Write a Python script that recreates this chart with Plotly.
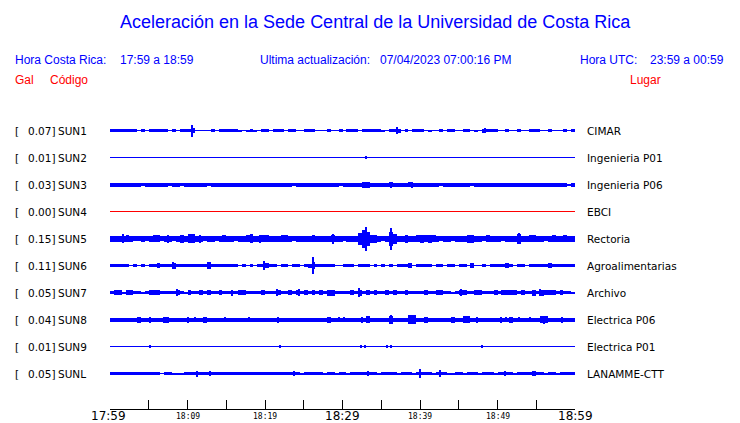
import plotly.graph_objects as go

# ---------------- data ----------------
TITLE = "Aceleración en la Sede Central de la Universidad de Costa Rica"
HORA_CR = "17:59 a 18:59"
HORA_UTC = "23:59 a 00:59"
ACTUALIZACION = "07/04/2023 07:00:16 PM"

CODES = ["SUN1", "SUN2", "SUN3", "SUN4", "SUN5", "SUN6", "SUN7", "SUN8", "SUN9", "SUNL"]
PEAKS = ["0.07]", "0.01]", "0.03]", "0.00]", "0.15]", "0.11]", "0.05]", "0.04]", "0.01]", "0.05]"]
PLACES = ["CIMAR", "Ingenieria P01", "Ingenieria P06", "EBCI", "Rectoria",
          "Agroalimentarias", "Archivo", "Electrica P06", "Electrica P01", "LANAMME-CTT"]
TRACE_COLORS = ["#0000FF", "#0000FF", "#0000FF", "#FF0000", "#0000FF",
                "#0000FF", "#0000FF", "#0000FF", "#0000FF", "#0000FF"]

# time axis (minutes after 17:59)
TICK_MINUTES = [0, 5, 10, 15, 20, 25, 30, 35, 40, 45, 50, 55, 60]
BIG_TICK_MINUTES = [0, 30, 60]
BIG_TICK_LABELS = ["17:59", "18:29", "18:59"]
SMALL_TICK_MINUTES = [10, 20, 40, 50]
SMALL_TICK_LABELS = ["18:09", "18:19", "18:39", "18:49"]
BIN_MINUTES = 0.5   # envelope sampled every 30 s

# envelope half-amplitudes (screen units) per 30-s bin
SUN1_ENV = [1.5,1.5,1.5,1.5,1.5,1.5,1.5,0,1.5,0,
            1.5,1.5,1.5,1.5,1.5,0,1.5,0,1.5,1.5,
            1.5,2.5,0,0,0,0,1.5,0,1.5,1.5,
            1.5,1.5,1.5,1,0,1,1.5,1,0,1.5,
            1.5,0,1.5,1.5,1.5,0,1.5,1.5,0,0,
            1.5,1.5,1.5,0,0,0,1.5,0,0,1.5,
            0,1.5,1.5,1.5,0,1.5,1.5,1.5,1.5,1.5,
            1,0,1.5,1.5,2,0,1.5,0,1.5,1.5,
            1.5,0,1,0,0,1.5,0,1.5,1.5,0,
            0,1.5,1.5,0,1,0,2,1.5,1.5,1.5,
            0,0,1.5,0,0,1.5,0,0,1.5,1.5,
            1.5,0,0,1.5,0,0,0,1.5,0,1.5]
SUN2_ENV = [0] * 120
SUN3_ENV = [2,2,2,2,2,2,2,2,1.2,2,
            2,2,2,2,2,1.2,2,2,1.2,2,
            2,2,2,2,2,1.2,2,2,2,2,
            2,2,2,2,2,2,2,2,2,2,
            2,2,2,2,2,2,2,1.2,2,2,
            2,2,2,2,2,2,2,2,2,1.2,
            2,2,2,2,2,3,3,2,2,2,
            2,2,2.8,2,2,2,2,2.8,2,2,
            2,2,2,2,2,1.2,2,2,2,2,
            2,2,2,1.2,2,2,2,2,2,2,
            2,2,2,2,2,2,2,2,2,2,
            2,2,2,2,2,2,2,2,1,2]
SUN4_ENV = [0] * 120
SUN5_ENV = [3,3,3,3,3.5,3,2.2,2.2,3,2.2,
            3,3.7,3.7,2.2,3,3,2.2,3,4,3,
            4.3,4.3,3,3,2.2,3,3,2.2,3,3.7,
            3,3,2.2,3,3,3.7,4.5,3,3,3.7,
            3.7,3,3,3,3.7,3.7,3,2.2,3,3,
            3,3,3.5,3,3,3,3,3.5,3,3,
            2.2,3,3,3,6,9,7,4,4,3,
            2.2,3,7,5,3,3,4,3,3,3.7,
            4,3.5,4,3.5,3,2.2,3,3,2.2,3,
            3,3,4,4,3,3,2.2,3.5,3,3,
            3,2.2,3,3,3,5,3,3,3.7,3.7,
            3,3,2.2,3,3.7,3,3,3.5,3,3]
SUN6_ENV = [1.7,1.7,1.7,1.7,1.7,0,1.7,0,1.2,0,
            1.7,1.7,2.5,1.7,1.7,1.7,3,1.7,1.7,1.7,
            1.7,1.7,1.7,1.7,1.7,3.5,1.7,1.7,1.7,1.7,
            1.7,1.7,1.7,0,1.7,0,1.7,0,1.7,1.7,
            2.5,1.7,1.7,0,1.7,1.7,0,1.7,1.7,0,
            1.7,2,3.5,1.7,1.7,1.7,1.7,1.7,0,0,
            1.7,1.7,1.7,0,1.7,1.7,1.7,0,1.7,0,
            1.7,0,1.7,0,1.7,1.7,1.7,2.5,0,1.7,
            1.7,1.7,1.7,0,1.7,1.7,0,1.7,1.7,0,
            1.7,1.7,0,2.5,0,0,1.7,0,1.7,1.7,
            1.7,1.7,2.5,1.7,0,1.7,1.7,0,1.7,1.7,
            1.7,1.7,1.7,2.5,1.7,1.7,1.7,1.7,1.7,1.7]
SUN7_ENV = [1.7,2.7,2.7,1,2.7,2.7,1.7,1.7,1,1.7,
            2.5,2.2,2.5,1.7,1.7,1.7,1.7,2.2,1.7,1,
            2.2,1.7,1.7,2.8,1.7,2.2,1.7,1.7,2.2,1.7,
            1.7,1.7,1.7,2.8,2.8,1.7,1.7,1.7,1.7,2.2,
            1.7,1.7,1.7,2.7,1.7,1.7,2.2,1.7,2.2,1.7,
            2.2,1.7,2.2,1.7,2.5,1.7,3,3,1.7,1.7,
            1.7,1.7,2.5,1.7,3,1.7,2.5,1.7,2.5,1.7,
            1.7,2.2,1.7,2.7,1.7,1.7,2.2,1.7,1.7,1.7,
            1.7,2.2,1.7,1.7,2.5,2.2,1.7,1.7,1,1.7,
            2.2,2.2,1.7,1.7,2.7,2.7,1.7,1.7,1.7,2.2,
            1.7,2.2,2.8,2.7,2.2,1.7,2.2,1.7,1.7,3,
            1.7,3,2.5,2.5,2.5,1.7,2.8,1.7,1.7,1]
SUN8_ENV = [2,2,2,2,2,2,2,3,2,2,
            2,2,2,2,3,2,2,2,2,2,
            2,2,2,2,3,2,2,2,2,2,
            2,2,2,2,2,2,2,2,2,2,
            2,2,2,2,2,2,2,2,2,2,
            2,2,2,2,2,2,3,2,2,2,
            2,2,2,2,2,2,3.2,2,2,2,
            2,2,4,2,2,2,2,4.3,4.3,2,
            2,3,2,2,2,2,2,2,3,2,
            2,3.2,3.2,2,2,2,2,2,2,2,
            2,2,2,3,2,2,2,2,2,2,
            2,3.5,3.5,2,2,2,2,2,2,2]
SUN9_ENV = [0] * 120
SUNL_ENV = [1.7,1.7,1.7,1.2,1.7,1.7,1.7,1.7,1.7,1.2,
            1.7,1.7,1.2,0,1.7,1.7,0.8,0.8,0.8,1.7,
            1.7,1.7,1.7,1.7,1.7,1.7,1.7,1.7,1.7,1.7,
            1.7,1.7,1.7,1.7,1.7,1.7,1.7,1.7,1.7,1.7,
            1.7,1.7,1.7,1.7,1.7,1.7,1.7,1.7,1.7,0.8,
            1.7,1.7,1.7,1.7,1.7,0.8,1.7,1.7,0.8,1.7,
            1.7,0.8,1.7,1.7,1.7,1.7,1.7,1.7,1.7,0.8,
            1.7,1.7,1.7,1.7,0.8,1.7,1.7,1.7,0.8,1.7,
            1.7,1.7,1.7,0.8,1.7,1.7,1.7,0.8,0.8,1.7,
            1.7,0.8,1.7,1.7,1.7,0.8,1.7,1.7,1.7,0.8,
            1.7,1.7,1.7,1.7,0.8,1.7,1.7,1.7,1.7,2.5,
            1.7,1.7,0.8,1.7,1.7,0.8,1.7,1.7,1.7,1.7]
ENVELOPES = [SUN1_ENV, SUN2_ENV, SUN3_ENV, SUN4_ENV, SUN5_ENV,
             SUN6_ENV, SUN7_ENV, SUN8_ENV, SUN9_ENV, SUNL_ENV]

# narrow peaks: minute, half-amplitude
SUN1_SPIKE_T = [10.6, 37.1, 48.35]
SUN1_SPIKE_A = [6, 3.3, 2.5]
SUN2_SPIKE_T = [33.0]
SUN2_SPIKE_A = [1.5]
SUN3_SPIKE_T = [36.3, 38.95]
SUN3_SPIKE_A = [3, 3]
SUN4_SPIKE_T = []
SUN4_SPIKE_A = []
SUN5_SPIKE_T = [1.7, 7.5, 11.6, 19.35, 28.85, 33.05, 36.3, 52.75]
SUN5_SPIKE_A = [4.3, 4, 4, 4, 5, 12, 11, 5.5]
SUN6_SPIKE_T = [8.2, 12.7, 19.9, 26.15]
SUN6_SPIKE_A = [3.3, 3.5, 4.5, 8.7]
SUN7_SPIKE_T = [8.6, 15.7, 21.55, 24.35, 32.15, 45.25, 55.55]
SUN7_SPIKE_A = [3.5, 3, 3.5, 3.5, 4.3, 3.2, 3.8]
SUN8_SPIKE_T = [5.15, 6.95, 7.5, 10.1, 10.95, 14.85, 17.95, 21.75, 29.5, 30.15,
                32.5, 36.3, 47.4, 50.4, 51.05, 52.75, 54.25, 56.0, 58.35]
SUN8_SPIKE_A = [3, 3, 3, 3, 2.8, 2.5, 2.5, 3, 2.5, 2.5,
                3, 4.3, 3, 3, 2.8, 2.5, 2.5, 4, 3]
SUN9_SPIKE_T = [5.15, 21.95, 32.35, 32.95, 35.75, 36.3, 48.0]
SUN9_SPIKE_A = [1.3, 1.3, 1.3, 1.3, 1.3, 1.3, 1.3]
SUNL_SPIKE_T = [11.2, 12.9, 23.7, 33.35, 40.05, 42.65, 51.0]
SUNL_SPIKE_A = [3, 2.5, 2.5, 2.5, 4.5, 3.5, 2.2]
SPIKE_T = [SUN1_SPIKE_T, SUN2_SPIKE_T, SUN3_SPIKE_T, SUN4_SPIKE_T, SUN5_SPIKE_T,
           SUN6_SPIKE_T, SUN7_SPIKE_T, SUN8_SPIKE_T, SUN9_SPIKE_T, SUNL_SPIKE_T]
SPIKE_A = [SUN1_SPIKE_A, SUN2_SPIKE_A, SUN3_SPIKE_A, SUN4_SPIKE_A, SUN5_SPIKE_A,
           SUN6_SPIKE_A, SUN7_SPIKE_A, SUN8_SPIKE_A, SUN9_SPIKE_A, SUNL_SPIKE_A]

# ---------------- layout constants (window pixels) ----------------
WIN_W, WIN_H = 740, 423
PAGE_MARGIN = 8                              # default body margin of the html page
PL, PR, PT, PB = 110, 575, 115, 409          # plot area in window pixels
ROW_GAP = 27
FIRST_ROW_OFFSET = 15.5
T_END = TICK_MINUTES[-1]
PX_PER_MIN = (PR - PL) / T_END
BLUE, RED = "#0000FF", "#FF0000"
SANS = "Liberation Sans, Arial, sans-serif"
DJV = "DejaVu Sans"


def px_x(px):
    return (px - PL) / (PR - PL)


def px_y(py):
    return (PB - py) / (PB - PT)


fig = go.Figure()

for i, code in enumerate(CODES):
    c = -i * ROW_GAP
    col = TRACE_COLORS[i]
    env = ENVELOPES[i]
    centers = [(k + 0.5) * BIN_MINUTES for k in range(len(env))]
    edges = [k * BIN_MINUTES for k in range(len(env) + 1)]
    fig.add_trace(go.Scatter(x=[edges[0], edges[-1]], y=[c, c], mode="lines",
                             line=dict(color=col, width=1), hoverinfo="skip",
                             showlegend=False))
    fig.add_trace(go.Bar(x=centers, y=[2 * a for a in env], base=[c - a for a in env],
                         width=BIN_MINUTES, marker=dict(color=col, line=dict(width=0)),
                         hoverinfo="skip", showlegend=False))
    if SPIKE_T[i]:
        fig.add_trace(go.Bar(x=SPIKE_T[i], y=[2 * a for a in SPIKE_A[i]],
                             base=[c - a for a in SPIKE_A[i]], width=1.2 / PX_PER_MIN,
                             marker=dict(color=col, line=dict(width=0)),
                             hoverinfo="skip", showlegend=False))

y_top = FIRST_ROW_OFFSET
y_bot = -(PB - PT - FIRST_ROW_OFFSET)

ann = []


def text(px, py, s, color="black", size=12, family=SANS, anchor="left"):
    ann.append(dict(x=px_x(px), y=px_y(py), xref="paper", yref="paper", text=s,
                    showarrow=False, xanchor=anchor, yanchor="middle",
                    font=dict(color=color, size=size, family=family), borderpad=0))


text(375, 22, TITLE, BLUE, 18, SANS, "center")
text(14, 60, "Hora Costa Rica:", BLUE, 12)
text(119, 60, HORA_CR, BLUE, 12)
text(259, 60, "Ultima actualización:", BLUE, 12)
text(379, 60, ACTUALIZACION, BLUE, 12)
text(579, 60, "Hora UTC:", BLUE, 12)
text(649, 60, HORA_UTC, BLUE, 12)
text(14, 80, "Gal", RED, 12)
text(49, 80, "Código", RED, 12)
text(629, 80, "Lugar", RED, 12)

for i, code in enumerate(CODES):
    c = -i * ROW_GAP
    yp = (c - y_bot) / (y_top - y_bot)
    for px, s in [(14, "["), (27, PEAKS[i]), (57, code)]:
        ann.append(dict(x=px_x(px), y=yp, xref="paper", yref="paper", text=s,
                        showarrow=False, xanchor="left", yanchor="middle",
                        font=dict(color="black", size=10.5, family=DJV), borderpad=0))
    ann.append(dict(x=px_x(586), y=yp, xref="paper", yref="paper", text=PLACES[i],
                    showarrow=False, xanchor="left", yanchor="middle",
                    font=dict(color="black", size=10.5, family=DJV), borderpad=0))

# time labels placed on the x scale
for m, lab in zip(BIG_TICK_MINUTES, BIG_TICK_LABELS):
    ann.append(dict(x=m, y=px_y(416), xref="x", yref="paper", text=lab, showarrow=False,
                    xanchor="center", yanchor="middle", borderpad=0,
                    xshift=-2 if m == BIG_TICK_MINUTES[0] else 0,
                    font=dict(color="black", size=12, family=DJV)))
for m, lab in zip(SMALL_TICK_MINUTES, SMALL_TICK_LABELS):
    ann.append(dict(x=m, y=px_y(416), xref="x", yref="paper", text=lab, showarrow=False,
                    xanchor="center", yanchor="middle", borderpad=0,
                    font=dict(color="black", size=8, family="DejaVu Sans Mono")))

fig.update_layout(
    width=WIN_W - PAGE_MARGIN, height=WIN_H - PAGE_MARGIN,
    margin=dict(l=PL - PAGE_MARGIN, r=WIN_W - PR, t=PT - PAGE_MARGIN, b=WIN_H - PB,
                autoexpand=False),
    paper_bgcolor="white", plot_bgcolor="white",
    barmode="overlay", bargap=0,
    showlegend=False,
    annotations=ann,
    xaxis=dict(range=[0, T_END], tickvals=TICK_MINUTES, showticklabels=False,
               ticks="inside", ticklen=9, tickcolor="black", tickwidth=1,
               showline=True, linecolor="black", linewidth=1, mirror=False,
               showgrid=False, zeroline=False, fixedrange=True),
    yaxis=dict(range=[y_bot, y_top], visible=False, fixedrange=True),
)

fig.write_html("out.html")
